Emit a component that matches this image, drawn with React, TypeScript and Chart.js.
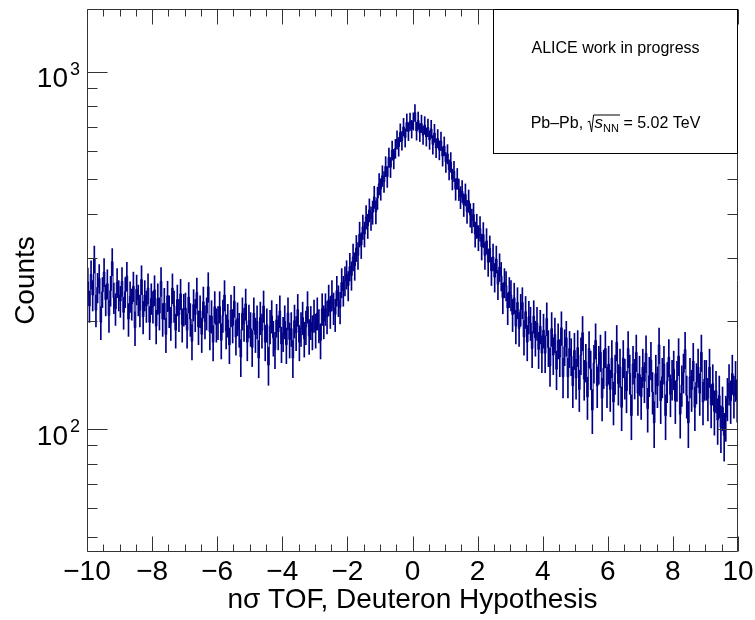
import React, { useEffect, useRef } from 'react';
import { Chart, registerables } from 'chart.js';

Chart.register(...registerables);

const FONT = '"Liberation Sans", Arial, Helvetica, sans-serif';
const DATA_COLOR = 'rgb(0,0,135)';
const FRAME_COLOR = '#333';

const X_MIN = -10;
const X_MAX = 10;
const Y_MIN = 45.3;
const Y_MAX = 1496;

const xTickValues = [-10, -8, -6, -4, -2, 0, 2, 4, 6, 8, 10];
const yMajorTicks = [100, 1000];
const yMinorTicks = [50, 60, 70, 80, 90, 200, 300, 400, 500, 600, 700, 800, 900];

const xTitle = 'nσ TOF, Deuteron Hypothesis';
const yTitle = 'Counts';
const legendLine1 = 'ALICE work in progress';
const ERROR_SCALE = 1.5;

// histogram contents, 0.05 wide bins
// x in [-10, -3)
const countsLeft = [
  258, 221, 271, 237, 299, 215, 249, 264, 199, 242, 275, 230, 255, 208, 244, 294, 233, 217, 257, 237,
  228, 259, 212, 242, 268, 203, 235, 224, 251, 192, 246, 230, 215, 262, 206, 237, 221, 248, 199, 232,
  220, 245, 194, 232, 211, 259, 203, 225, 184, 236, 214, 198, 248, 221, 189, 230, 209, 239, 196, 216,
  218, 189, 234, 203, 176, 223, 209, 241, 193, 214, 184, 227, 200, 211, 250, 187, 207, 175, 220, 196,
  199, 220, 177, 208, 237, 188, 202, 172, 215, 195, 228, 181, 204, 190, 159, 211, 197, 224, 175, 201,
  191, 169, 211, 184, 200, 158, 205, 189, 221, 175, 196, 151, 194, 207, 180, 167, 202, 187, 214, 173,
  185, 200, 172, 211, 178, 191, 158, 201, 186, 216, 175, 191, 205, 179, 193, 220, 182, 199, 187, 208,
];
// x in [-3, 3)
const countsPeak = [
  189, 211, 195, 177, 217, 200, 217, 206, 230, 213, 237, 218, 209, 244, 229, 219, 257, 244, 260, 271,
  252, 285, 269, 303, 286, 321, 306, 351, 327, 368, 351, 392, 370, 410, 389, 404, 446, 405, 443, 485,
  469, 511, 492, 543, 508, 575, 540, 602, 570, 609, 645, 617, 675, 641, 700, 653, 721, 680, 725, 691,
  726, 767, 682, 730, 676, 715, 664, 708, 657, 697, 644, 691, 625, 673, 611, 650, 603, 639, 580, 619,
  558, 588, 532, 558, 500, 526, 469, 502, 468, 445, 463, 424, 453, 406, 435, 397, 383, 398, 351, 370,
  343, 364, 324, 350, 306, 336, 293, 320, 277, 303, 266, 299, 254, 284, 268, 233, 257, 252, 218, 242,
];
// x in [3, 10)
const countsRight = [
  237, 209, 233, 194, 226, 191, 216, 226, 181, 213, 175, 206, 198, 168, 207, 180, 198, 167, 194, 163,
  189, 163, 204, 169, 150, 191, 161, 184, 147, 177, 159, 192, 140, 170, 180, 140, 168, 160, 132, 166,
  139, 169, 129, 161, 186, 138, 154, 123, 168, 147, 113, 153, 177, 132, 152, 164, 122, 148, 168, 132,
  152, 129, 158, 119, 143, 175, 134, 149, 115, 158, 139, 128, 168, 143, 109, 152, 139, 164, 126, 142,
  123, 149, 136, 163, 114, 141, 156, 127, 104, 143, 132, 172, 120, 140, 152, 109, 136, 159, 125, 138,
  147, 120, 137, 160, 110, 133, 144, 167, 124, 104, 140, 129, 155, 115, 135, 149, 126, 164, 119, 138,
  138, 122, 149, 117, 134, 112, 128, 106, 124, 101, 115, 96, 108, 122, 134, 120, 143, 124, 137, 121,
];

const counts = [...countsLeft, ...countsPeak, ...countsRight];
const binWidth = (X_MAX - X_MIN) / counts.length;
const centers = counts.map((_, i) => X_MIN + (i + 0.5) * binWidth);

const fmtX = (v: number) => (v < 0 ? '\u2212' + Math.abs(v) : String(v));

const frameTicksPlugin = {
  id: 'frameTicks',
  afterDatasetsDraw(chart: any) {
    const { ctx, chartArea, scales } = chart;
    const { left, right, top, bottom } = chartArea;
    const x = scales.x;
    const y = scales.y;
    ctx.save();
    ctx.strokeStyle = FRAME_COLOR;
    ctx.lineWidth = 1;
    ctx.beginPath();
    const L = Math.round(left) + 0.5, R = Math.round(right) - 0.5;
    const T = Math.round(top) + 0.5, B = Math.round(bottom) - 0.5;
    ctx.rect(L, T, R - L, B - T);
    for (let i = 0; i <= 40; i++) {
      const v = X_MIN + i * 0.5;
      const px = Math.round(x.getPixelForValue(v)) + 0.5;
      const major = i % 4 === 0;
      const len = major ? 15 : 7;
      ctx.moveTo(px, B);
      ctx.lineTo(px, B - len);
      ctx.moveTo(px, T);
      ctx.lineTo(px, T + len);
    }
    const yt = [...yMajorTicks.map((v) => [v, 20]), ...yMinorTicks.map((v) => [v, 10])];
    for (const [v, len] of yt) {
      const py = Math.round(y.getPixelForValue(v)) + 0.5;
      ctx.moveTo(L, py);
      ctx.lineTo(L + len, py);
      ctx.moveTo(R, py);
      ctx.lineTo(R - len, py);
    }
    ctx.stroke();

    // y labels: 10^n
    ctx.fillStyle = '#000';
    ctx.textBaseline = 'alphabetic';
    for (const v of yMajorTicks) {
      const py = y.getPixelForValue(v);
      ctx.font = `28px ${FONT}`;
      ctx.textAlign = 'right';
      ctx.fillText('10', 68, py + 15.5);
      ctx.font = `18px ${FONT}`;
      ctx.textAlign = 'left';
      ctx.fillText(String(Math.round(Math.log10(v))), 70, py + 3);
    }
    ctx.restore();
  },
};

const legendPlugin = {
  id: 'aliceLegend',
  afterDraw(chart: any) {
    const { ctx, chartArea } = chart;
    const bx = 493.5, by = 9.5;
    const bw = Math.round(chartArea.right) - 0.5 - bx;
    const bh = 144;
    ctx.save();
    ctx.fillStyle = '#fff';
    ctx.fillRect(bx, by, bw, bh);
    ctx.strokeStyle = '#000';
    ctx.lineWidth = 1;
    ctx.strokeRect(bx, by, bw, bh);
    const cx = bx + bw / 2;
    ctx.fillStyle = '#000';
    ctx.textBaseline = 'alphabetic';
    ctx.textAlign = 'center';
    ctx.font = `16px ${FONT}`;
    ctx.fillText(legendLine1, cx, 53);

    // second line: Pb–Pb, √s_NN = 5.02 TeV
    ctx.textAlign = 'left';
    const base = 128;
    const part1 = 'Pb\u2013Pb, ';
    const part3 = ' = 5.02 TeV';
    ctx.font = `16px ${FONT}`;
    const w1 = ctx.measureText(part1).width;
    const w3 = ctx.measureText(part3).width;
    ctx.font = `italic 17px ${FONT}`;
    const ws = ctx.measureText('s').width;
    ctx.font = `11px ${FONT}`;
    const wn = ctx.measureText('NN').width;
    const sqrtW = 7;
    const total = w1 + sqrtW + ws + wn + w3;
    let px = cx - total / 2;
    ctx.font = `16px ${FONT}`;
    ctx.fillText(part1, px, base);
    px += w1;
    ctx.beginPath();
    ctx.moveTo(px, base - 6);
    ctx.lineTo(px + 2, base - 7);
    ctx.lineTo(px + 4, base + 4);
    ctx.lineTo(px + 6, base - 13);
    ctx.lineTo(px + sqrtW + ws + wn + 1, base - 13);
    ctx.stroke();
    px += sqrtW;
    ctx.font = `italic 17px ${FONT}`;
    ctx.fillText('s', px, base);
    px += ws;
    ctx.font = `11px ${FONT}`;
    ctx.fillText('NN', px, base + 4);
    px += wn;
    ctx.font = `16px ${FONT}`;
    ctx.fillText(part3, px, base);
    ctx.restore();
  },
};

export default function App() {
  const ref = useRef<HTMLCanvasElement | null>(null);
  useEffect(() => {
    if (!ref.current) return;
    const chart = new Chart(ref.current, {
      type: 'line',
      data: {
        datasets: [
          {
            type: 'bar',
            data: centers.map((x, i) => {
              const e = ERROR_SCALE * Math.sqrt(counts[i]);
              return { x, y: [counts[i] - e, counts[i] + e] };
            }) as any,
            backgroundColor: DATA_COLOR,
            borderWidth: 0,
            barThickness: 1,
            grouped: false,
          } as any,
          {
            type: 'line',
            data: centers.map((x, i) => ({ x, y: counts[i] })),
            borderColor: DATA_COLOR,
            borderWidth: 1,
            pointRadius: 0,
            stepped: 'middle',
            fill: false,
          } as any,
        ],
      },
      options: {
        animation: false,
        responsive: false,
        events: [],
        layout: { padding: { top: 9, right: 17, left: 0, bottom: 0 } },
        plugins: { legend: { display: false }, tooltip: { enabled: false } },
        scales: {
          x: {
            type: 'linear',
            min: X_MIN,
            max: X_MAX,
            offset: false,
            grid: { display: false, drawTicks: false },
            border: { display: false },
            afterBuildTicks: (s: any) => {
              s.ticks = xTickValues.map((v) => ({ value: v }));
            },
            ticks: {
              autoSkip: false,
              maxRotation: 0,
              padding: 3,
              color: '#000',
              font: { family: FONT, size: 28 },
              callback: (v: any) => fmtX(Number(v)),
            },
            title: {
              display: true,
              text: xTitle,
              color: '#000',
              font: { family: FONT, size: 28 },
              padding: { top: 0, bottom: 3 },
            },
            afterFit: (s: any) => {
              s.height = 68;
              s.paddingLeft = 0;
              s.paddingRight = 0;
            },
          },
          y: {
            type: 'logarithmic',
            min: Y_MIN,
            max: Y_MAX,
            grid: { display: false, drawTicks: false },
            border: { display: false },
            afterBuildTicks: (s: any) => {
              s.ticks = [...yMinorTicks, ...yMajorTicks].sort((a, b) => a - b).map((v) => ({ value: v }));
            },
            ticks: {
              display: false,
            },
            title: {
              display: true,
              text: yTitle,
              color: '#000',
              font: { family: FONT, size: 28 },
              padding: { top: 9, bottom: 0 },
            },
            afterFit: (s: any) => {
              s.width = 87;
              s.paddingTop = 0;
              s.paddingBottom = 0;
            },
          },
        },
      } as any,
      plugins: [frameTicksPlugin, legendPlugin],
    });
    return () => chart.destroy();
  }, []);
  return (
    <div style={{ position: 'absolute', left: 0, top: 0, width: 755, height: 620, background: '#fff' }}>
      <canvas ref={ref} width={755} height={620} />
    </div>
  );
}
